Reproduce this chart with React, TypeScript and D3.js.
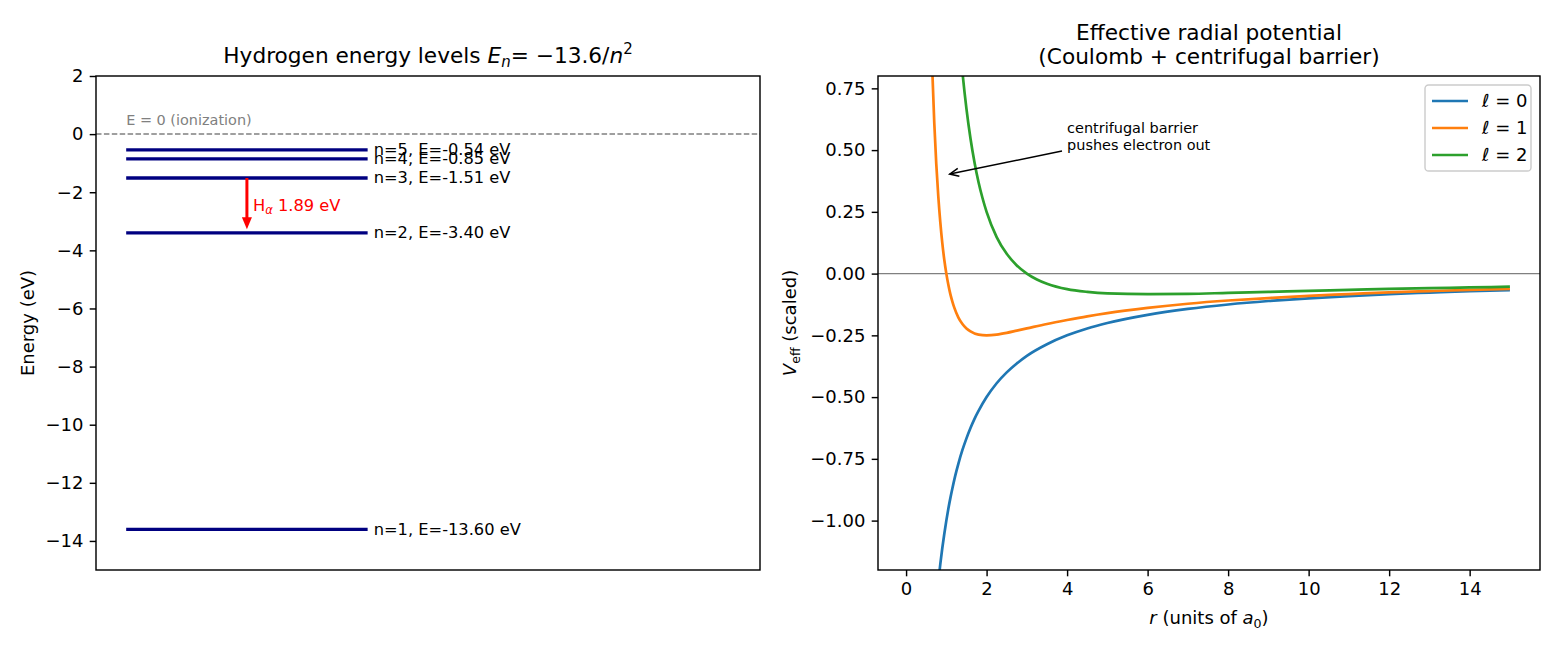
import React from "react";
import * as d3 from "d3";

// hydrogen levels (eV)
const levelN = [1, 2, 3, 4, 5];
const levelE = [-13.6, -3.4, -1.51, -0.85, -0.54];
const energyTicks = [2, 0, -2, -4, -6, -8, -10, -12, -14];

// effective potential samples, l = 0, 1, 2
const rL0 = [0.7, 0.75, 0.8, 0.85, 0.9, 0.95, 1.0, 1.05, 1.1, 1.15, 1.2, 1.25, 1.3, 1.4, 1.5, 1.6, 1.7, 1.8, 2.0, 2.25, 2.5, 2.75, 3.0, 3.5, 4.0, 4.5, 5.0, 6.0, 7.0, 8.0, 9.0, 10.0, 11.0, 12.0, 13.0, 14.0, 15.0];
const vL0 = [-1.429, -1.333, -1.25, -1.176, -1.111, -1.053, -1.0, -0.952, -0.909, -0.87, -0.833, -0.8, -0.769, -0.714, -0.667, -0.625, -0.588, -0.556, -0.5, -0.444, -0.4, -0.364, -0.333, -0.286, -0.25, -0.222, -0.2, -0.167, -0.143, -0.125, -0.111, -0.1, -0.091, -0.083, -0.077, -0.071, -0.067];
const rL1 = [0.6, 0.65, 0.7, 0.75, 0.8, 0.85, 0.9, 0.95, 1.0, 1.05, 1.1, 1.15, 1.2, 1.3, 1.4, 1.5, 1.6, 1.8, 2.0, 2.25, 2.5, 2.75, 3.0, 3.5, 4.0, 4.5, 5.0, 6.0, 7.0, 8.0, 9.0, 10.0, 11.0, 12.0, 13.0, 14.0, 15.0];
const vL1 = [1.111, 0.828, 0.612, 0.444, 0.313, 0.208, 0.123, 0.055, 0.0, -0.045, -0.083, -0.113, -0.139, -0.178, -0.204, -0.222, -0.234, -0.247, -0.25, -0.247, -0.24, -0.231, -0.222, -0.204, -0.188, -0.173, -0.16, -0.139, -0.122, -0.109, -0.099, -0.09, -0.083, -0.076, -0.071, -0.066, -0.062];
const rL2 = [1.3, 1.4, 1.5, 1.6, 1.7, 1.8, 1.9, 2.0, 2.25, 2.5, 2.75, 3.0, 3.25, 3.5, 4.0, 4.5, 5.0, 6.0, 7.0, 8.0, 9.0, 10.0, 11.0, 12.0, 13.0, 14.0, 15.0];
const vL2 = [1.006, 0.816, 0.667, 0.547, 0.45, 0.37, 0.305, 0.25, 0.148, 0.08, 0.033, 0.0, -0.024, -0.041, -0.063, -0.074, -0.08, -0.083, -0.082, -0.078, -0.074, -0.07, -0.066, -0.062, -0.059, -0.056, -0.053];
const ellValues = [0, 1, 2];
const potTicksY = [0.75, 0.5, 0.25, 0, -0.25, -0.5, -0.75, -1.0];
const potTicksX = [0, 2, 4, 6, 8, 10, 12, 14];

const FONT = "DejaVu Sans";
const colors = ["#1f77b4", "#ff7f0e", "#2ca02c"];

class App extends React.Component {
  constructor(props: any) {
    super(props);
    this.draw = this.draw.bind(this);
  }

  componentDidMount() {
    this.draw();
  }

  draw() {
    var svg = d3
      .select("#chart")
      .append("svg")
      .attr("width", 1560)
      .attr("height", 650)
      .style("display", "block")
      .attr("font-family", FONT);

    svg.append("rect").attr("width", 1560).attr("height", 650).attr("fill", "white");

    var styleAxis = function (g: any) {
      g.select(".domain").remove();
      g.attr("font-family", FONT).attr("font-size", 18);
      g.selectAll(".tick line").attr("stroke", "black").attr("stroke-width", 1.44);
      g.selectAll(".tick text").attr("fill", "black");
    };

    // ---------- left panel: energy levels ----------
    var L = { left: 96, right: 760, top: 76, bottom: 570 };
    var x1 = d3.scaleLinear().domain([0, 2.2]).range([L.left, L.right]);
    var y1 = d3.scaleLinear().domain([-15, 2]).range([L.bottom, L.top]);

    svg
      .append("g")
      .attr("transform", "translate(" + L.left + ",0)")
      .call(
        d3.axisLeft(y1).tickValues(energyTicks).tickFormat(d3.format("d")).tickSize(6.3).tickPadding(6.3)
      )
      .call(styleAxis);

    // ionization threshold
    svg
      .append("line")
      .attr("x1", L.left)
      .attr("x2", L.right)
      .attr("y1", y1(0))
      .attr("y2", y1(0))
      .attr("stroke", "gray")
      .attr("stroke-width", 1.5)
      .attr("stroke-dasharray", "5.5,2.4");
    svg
      .append("text")
      .attr("x", x1(0.1))
      .attr("y", y1(0.3))
      .attr("font-size", 14.44)
      .attr("fill", "gray")
      .text("E = 0 (ionization)");

    levelN.forEach(function (n, i) {
      svg
        .append("line")
        .attr("x1", x1(0.1))
        .attr("x2", x1(0.9))
        .attr("y1", y1(levelE[i]))
        .attr("y2", y1(levelE[i]))
        .attr("stroke", "#000080")
        .attr("stroke-width", 3.3);
      svg
        .append("text")
        .attr("x", x1(0.92))
        .attr("y", y1(levelE[i]))
        .attr("dy", "0.32em")
        .attr("font-size", 16.25)
        .text("n=" + n + ", E=" + levelE[i].toFixed(2) + " eV");
    });

    // Balmer alpha: n=3 -> n=2
    var ax = x1(0.5);
    var yFrom = y1(levelE[2]);
    var yTo = y1(levelE[1]) - 3.6;
    svg
      .append("line")
      .attr("x1", ax)
      .attr("x2", ax)
      .attr("y1", yFrom)
      .attr("y2", yTo - 8)
      .attr("stroke", "red")
      .attr("stroke-width", 3);
    svg
      .append("path")
      .attr("d", "M" + (ax - 5) + "," + (yTo - 12) + "L" + ax + "," + yTo + "L" + (ax + 5) + "," + (yTo - 12) + "Z")
      .attr("fill", "red");
    var hText = svg
      .append("text")
      .attr("x", x1(0.52))
      .attr("y", y1((levelE[2] + levelE[1]) / 2))
      .attr("dy", "0.32em")
      .attr("font-size", 16.25)
      .attr("fill", "red");
    hText.append("tspan").text("H");
    hText.append("tspan").attr("font-size", 11.5).attr("font-style", "italic").attr("dy", 3.5).text("α");
    hText.append("tspan").attr("dy", -3.5).text(" " + (levelE[2] - levelE[1]).toFixed(2) + " eV");

    svg
      .append("rect")
      .attr("x", L.left)
      .attr("y", L.top)
      .attr("width", L.right - L.left)
      .attr("height", L.bottom - L.top)
      .attr("fill", "none")
      .attr("stroke", "black")
      .attr("stroke-width", 1.44);

    var t1 = svg
      .append("text")
      .attr("x", (L.left + L.right) / 2)
      .attr("y", 63)
      .attr("text-anchor", "middle")
      .attr("font-size", 21.67);
    t1.append("tspan").text("Hydrogen energy levels ");
    t1.append("tspan").attr("font-style", "italic").text("E");
    t1.append("tspan").attr("font-style", "italic").attr("font-size", 15).attr("dy", 4).text("n");
    t1.append("tspan").attr("dy", -4).text("= −13.6/");
    t1.append("tspan").attr("font-style", "italic").text("n");
    t1.append("tspan").attr("font-size", 15).attr("dy", -9).text("2");

    svg
      .append("text")
      .attr("transform", "translate(28," + (L.top + L.bottom) / 2 + ") rotate(-90)")
      .attr("text-anchor", "middle")
      .attr("dy", "0.35em")
      .attr("font-size", 18)
      .text("Energy (eV)");

    // ---------- right panel: effective potential ----------
    var R = { left: 878, right: 1540, top: 76, bottom: 570 };
    var x2 = d3.scaleLinear().domain([-0.6975, 15.7475]).range([R.left, R.right]);
    var y2 = d3.scaleLinear().domain([-1.2, 0.8]).range([R.bottom, R.top]);

    svg
      .append("g")
      .attr("transform", "translate(" + R.left + ",0)")
      .call(
        d3.axisLeft(y2).tickValues(potTicksY).tickFormat(d3.format(".2f")).tickSize(6.3).tickPadding(6.3)
      )
      .call(styleAxis);
    svg
      .append("g")
      .attr("transform", "translate(0," + R.bottom + ")")
      .call(
        d3.axisBottom(x2).tickValues(potTicksX).tickFormat(d3.format("d")).tickSize(6.3).tickPadding(6.3)
      )
      .call(styleAxis);

    svg
      .append("clipPath")
      .attr("id", "potClip")
      .append("rect")
      .attr("x", R.left)
      .attr("y", R.top)
      .attr("width", R.right - R.left)
      .attr("height", R.bottom - R.top);

    svg
      .append("line")
      .attr("x1", R.left)
      .attr("x2", R.right)
      .attr("y1", y2(0))
      .attr("y2", y2(0))
      .attr("stroke", "gray")
      .attr("stroke-width", 1.44);

    var series = [
      { r: rL0, v: vL0 },
      { r: rL1, v: vL1 },
      { r: rL2, v: vL2 },
    ];
    var line = d3
      .line<[number, number]>()
      .x(function (d) { return x2(d[0]); })
      .y(function (d) { return y2(d[1]); })
      .curve(d3.curveMonotoneX);
    series.forEach(function (s, k) {
      var pts = s.r.map(function (r, i) {
        return [r, s.v[i]] as [number, number];
      });
      svg
        .append("path")
        .attr("clip-path", "url(#potClip)")
        .attr("d", line(pts))
        .attr("fill", "none")
        .attr("stroke", colors[k])
        .attr("stroke-width", 2.7);
    });

    // annotation
    var tipX = x2(1.0) + 3.4;
    var tipY = y2(0.4) - 0.7;
    var fromX = 1062;
    var fromY = 151;
    var ang = Math.atan2(tipY - fromY, tipX - fromX);
    var hl = 9, hw = 4;
    var bx = tipX - hl * Math.cos(ang), by = tipY - hl * Math.sin(ang);
    svg
      .append("line")
      .attr("x1", fromX)
      .attr("y1", fromY)
      .attr("x2", tipX)
      .attr("y2", tipY)
      .attr("stroke", "black")
      .attr("stroke-width", 1.5);
    svg
      .append("path")
      .attr(
        "d",
        "M" + (bx - hw * Math.sin(ang)) + "," + (by + hw * Math.cos(ang)) +
          "L" + tipX + "," + tipY +
          "L" + (bx + hw * Math.sin(ang)) + "," + (by - hw * Math.cos(ang))
      )
      .attr("fill", "none")
      .attr("stroke", "black")
      .attr("stroke-width", 1.5);
    var ann = svg.append("text").attr("font-size", 14.44);
    ann.append("tspan").attr("x", x2(4)).attr("y", y2(0.5) - 17.3).text("centrifugal barrier");
    ann.append("tspan").attr("x", x2(4)).attr("y", y2(0.5)).text("pushes electron out");

    svg
      .append("rect")
      .attr("x", R.left)
      .attr("y", R.top)
      .attr("width", R.right - R.left)
      .attr("height", R.bottom - R.top)
      .attr("fill", "none")
      .attr("stroke", "black")
      .attr("stroke-width", 1.44);

    // legend
    var lg = svg.append("g");
    lg.append("rect")
      .attr("x", 1425)
      .attr("y", 85)
      .attr("width", 106)
      .attr("height", 86)
      .attr("rx", 3.6)
      .attr("fill", "white")
      .attr("fill-opacity", 0.8)
      .attr("stroke", "#cccccc")
      .attr("stroke-width", 1.44);
    ellValues.forEach(function (ell, k) {
      var yy = 101 + k * 27;
      lg.append("line")
        .attr("x1", 1432)
        .attr("x2", 1468)
        .attr("y1", yy)
        .attr("y2", yy)
        .attr("stroke", colors[k])
        .attr("stroke-width", 2.7);
      var t = lg.append("text").attr("x", 1482).attr("y", yy).attr("dy", "0.36em").attr("font-size", 18);
      t.append("tspan").attr("font-style", "italic").text("ℓ");
      t.append("tspan").text(" = " + ell);
    });

    var t2 = svg.append("text").attr("text-anchor", "middle").attr("font-size", 21.67);
    t2.append("tspan").attr("x", (R.left + R.right) / 2).attr("y", 40).text("Effective radial potential");
    t2.append("tspan").attr("x", (R.left + R.right) / 2).attr("y", 64).text("(Coulomb + centrifugal barrier)");

    var yl = svg
      .append("text")
      .attr("transform", "translate(790," + (R.top + R.bottom) / 2 + ") rotate(-90)")
      .attr("text-anchor", "middle")
      .attr("dy", "0.35em")
      .attr("font-size", 18);
    yl.append("tspan").attr("font-style", "italic").text("V");
    yl.append("tspan").attr("font-size", 12.6).attr("dy", 4).text("eff");
    yl.append("tspan").attr("dy", -4).text(" (scaled)");

    var xl = svg
      .append("text")
      .attr("x", (R.left + R.right) / 2)
      .attr("y", 624)
      .attr("text-anchor", "middle")
      .attr("font-size", 18);
    xl.append("tspan").attr("font-style", "italic").text("r");
    xl.append("tspan").text(" (units of ");
    xl.append("tspan").attr("font-style", "italic").text("a");
    xl.append("tspan").attr("font-size", 12.6).attr("dy", 4).text("0");
    xl.append("tspan").attr("dy", -4).text(")");
  }

  render() {
    return <div id="chart" style={{ position: "absolute", left: 0, top: 0 }}></div>;
  }
}
export default App;
